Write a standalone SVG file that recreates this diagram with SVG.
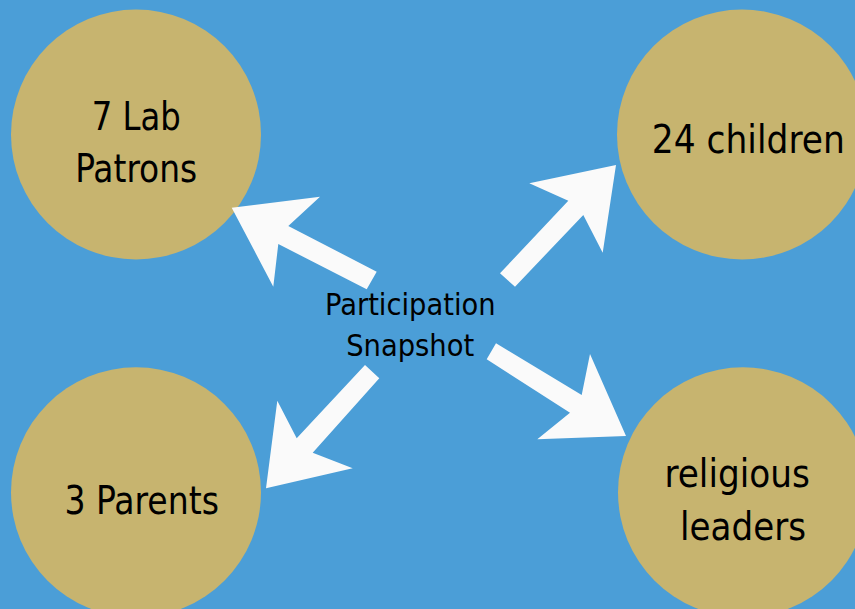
<svg xmlns="http://www.w3.org/2000/svg" width="855" height="609" viewBox="0 0 855 609">
  <style>
    .bubble { fill: #C7B46F; }
    .label { font-family: "DejaVu Sans Condensed", "DejaVu Sans", "Liberation Sans", sans-serif; font-stretch: condensed; fill: #000000; text-anchor: middle; }
    .big { font-size: 39px; }
    .hub { font-size: 30px; }
    .arrow { fill: #FAFAFA; }
  </style>
  <rect x="0" y="0" width="855" height="609" fill="#4B9ED7"/>

  <g id="node-lab-patrons">
    <circle class="bubble" cx="136" cy="134.5" r="125"/>
    <text class="label big" x="136.3" y="130" textLength="89" lengthAdjust="spacingAndGlyphs">7 Lab</text>
    <text class="label big" x="136.2" y="181.5" textLength="122" lengthAdjust="spacingAndGlyphs">Patrons</text>
  </g>

  <g id="node-children">
    <circle class="bubble" cx="742" cy="134.5" r="125"/>
    <text class="label big" x="748.3" y="152.5" textLength="193" lengthAdjust="spacingAndGlyphs">24 children</text>
  </g>

  <g id="node-parents">
    <circle class="bubble" cx="136" cy="492.3" r="125"/>
    <text class="label big" x="141.7" y="514" textLength="154.5" lengthAdjust="spacingAndGlyphs">3 Parents</text>
  </g>

  <g id="node-religious-leaders">
    <circle class="bubble" cx="743" cy="492.3" r="125"/>
    <text class="label big" x="737.2" y="486.5" textLength="145.5" lengthAdjust="spacingAndGlyphs">religious</text>
    <text class="label big" x="743" y="540" textLength="126" lengthAdjust="spacingAndGlyphs">leaders</text>
  </g>

  <g id="node-hub">
    <text class="label hub" x="410.3" y="315" textLength="170.5" lengthAdjust="spacingAndGlyphs">Participation</text>
    <text class="label hub" x="410.2" y="356" textLength="128" lengthAdjust="spacingAndGlyphs">Snapshot</text>
  </g>

  <g id="connectors">
    <polygon class="arrow" points="376.7,271.7 288.3,226 320,196.7 231.7,207.7 273.3,286.7 278.3,244 366.7,289.3"/>
    <polygon class="arrow" points="500,273.3 568.3,200.7 529.3,183.3 616,165 602.7,252.7 583.3,215 515,286.7"/>
    <polygon class="arrow" points="365,365 296.7,438.3 277.3,400.7 266,488.3 352.7,468.3 312.7,452.7 379.3,378.3"/>
    <polygon class="arrow" points="496,343.3 581.7,395 590,354 626,436 537.3,439.3 570,412.7 486.7,359.3"/>
  </g>
</svg>
